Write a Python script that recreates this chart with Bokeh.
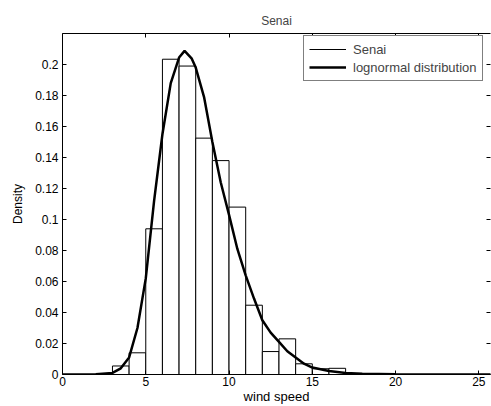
from bokeh.plotting import figure
from bokeh.models import (LinearAxis, FixedTicker, PrintfTickFormatter, Legend,
                          LegendItem, Range1d, ColumnDataSource)
from bokeh.embed import file_html
from bokeh.resources import INLINE

# ---- data ----
bin_left = [3, 4, 5, 6, 7, 8, 9, 10, 11, 12, 13, 14, 15, 16]
bin_right = [4, 5, 6, 7, 8, 9, 10, 11, 12, 13, 14, 15, 16, 17]
density = [0.0055, 0.014, 0.094, 0.2034, 0.199, 0.1525, 0.138, 0.108,
           0.0447, 0.0148, 0.023, 0.0069, 0.0037, 0.004]

curve_x = [0, 1, 2, 3, 3.5, 4, 4.5, 5, 5.5, 6, 6.5, 7, 7.33, 7.75, 8, 8.5,
           9, 9.5, 10, 10.5, 11, 11.5, 12, 12.5, 13, 13.5, 14, 14.5, 15, 16,
           17, 18, 20, 22, 25, 26]
curve_y = [0, 0, 0.0002, 0.001, 0.004, 0.011, 0.03, 0.062, 0.112, 0.155,
           0.188, 0.2045, 0.2088, 0.204, 0.198, 0.179, 0.150, 0.124, 0.103,
           0.081, 0.064, 0.049, 0.035, 0.027, 0.021, 0.015, 0.011, 0.007,
           0.0045, 0.0022, 0.001, 0.0005, 0.0001, 0, 0, 0]

x_ticks = [0, 5, 10, 15, 20, 25]
y_ticks = [0, 0.02, 0.04, 0.06, 0.08, 0.1, 0.12, 0.14, 0.16, 0.18, 0.2]

FONT = "Liberation Sans"

p = figure(width=491, height=406, output_backend="svg", toolbar_location=None,
           x_range=Range1d(0, 25.7), y_range=Range1d(0, 0.22),
           x_axis_label="wind speed", y_axis_label="Density",
           min_border_left=62, min_border_right=1, min_border_top=33,
           min_border_bottom=31)

p.title.text = "Senai"
p.title.align = "center"
p.title.text_font = FONT
p.title.text_font_size = "12px"
p.title.text_font_style = "normal"
p.title.standoff = 12

p.grid.visible = False
p.outline_line_color = None
p.background_fill_color = "white"
p.border_fill_color = "white"

for ax in p.xaxis:
    ax.ticker = FixedTicker(ticks=x_ticks)
for ax in p.yaxis:
    ax.ticker = FixedTicker(ticks=y_ticks)
    ax.formatter = PrintfTickFormatter(format="%g")

for ax in list(p.xaxis) + list(p.yaxis):
    ax.major_tick_in = 4
    ax.major_tick_out = 0
    ax.minor_tick_line_color = None
    ax.axis_line_color = "black"
    ax.major_tick_line_color = "black"
    ax.major_label_text_font = FONT
    ax.major_label_text_font_size = "12px"
    ax.major_label_text_color = "black"
    ax.axis_label_text_font = FONT
    ax.axis_label_text_font_style = "normal"
    ax.axis_label_text_color = "black"

p.xaxis.major_label_standoff = 2
p.xaxis.axis_label_standoff = 0
p.xaxis.axis_label_text_font_size = "13px"
p.yaxis.major_label_standoff = 4
p.yaxis.axis_label_standoff = 7
p.yaxis.axis_label_text_font_size = "12px"

top = LinearAxis(ticker=FixedTicker(ticks=x_ticks), major_label_text_font_size="0px",
                 major_label_text_color=None, major_label_standoff=0,
                 major_tick_in=4, major_tick_out=0, minor_tick_line_color=None,
                 axis_line_color="black")
p.add_layout(top, "above")

right = LinearAxis(ticker=FixedTicker(ticks=y_ticks), major_label_text_font_size="0px",
                   major_label_text_color=None, major_label_standoff=0,
                   major_tick_in=4, major_tick_out=0, minor_tick_line_color=None,
                   axis_line_color=None)
p.add_layout(right, "right")

hist_src = ColumnDataSource(dict(left=bin_left, right=bin_right, top=density,
                                 bottom=[0] * len(density)))
p.quad(left="left", right="right", top="top", bottom="bottom", source=hist_src,
       fill_color="white", line_color="black", line_width=1)

curve_src = ColumnDataSource(dict(x=curve_x, y=curve_y))
r_curve = p.line("x", "y", source=curve_src, line_color="black", line_width=2.5)

# legend-only renderer for the histogram entry (no visible data)
leg_src = ColumnDataSource(dict(x=[float("nan")], y=[float("nan")]))
r_leg = p.line("x", "y", source=leg_src, line_color="black", line_width=1)

legend = Legend(items=[LegendItem(label="Senai", renderers=[r_leg]),
                       LegendItem(label="lognormal distribution", renderers=[r_curve])],
                location=(241, 293), padding=5, spacing=2, label_height=16,
                glyph_height=16, glyph_width=37, label_standoff=7,
                border_line_color="black", border_line_width=1,
                label_text_font=FONT, label_text_font_size="13px", margin=0,
                background_fill_color="white", background_fill_alpha=1)
p.add_layout(legend)

open("out.html", "w").write(file_html(p, INLINE))
